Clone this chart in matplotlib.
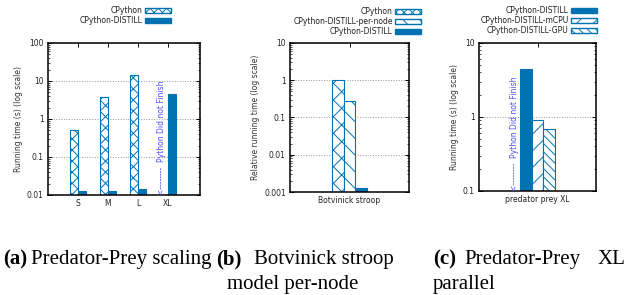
import numpy as np
import matplotlib
matplotlib.use('Agg')
import matplotlib.pyplot as plt
from matplotlib.patches import Patch

# donnees
tailles = ['S', 'M', 'L', 'XL']
cpython_a = [0.5, 3.9, 14.0, np.nan]
distill_a = [0.013, 0.013, 0.014, 4.6]

stroop_labels = ['Botvinick stroop']
stroop_cpython = [1.0]
stroop_pernode = [0.28]
stroop_distill = [0.0013]

pp_labels = ['predator prey XL']
pp_distill = [4.4]
pp_mcpu = [0.9]
pp_gpu = [0.68]

BLEU = '#0072b2'
TXT = '#4d4dff'
FS = 5.5

W, H = 626, 295
plt.rcParams['hatch.linewidth'] = 0.7
plt.rcParams['font.family'] = 'DejaVu Sans'
fig = plt.figure(figsize=(W / 100, H / 100), dpi=100)


def boite(x0, x1, y0, y1):
    # conversion pixels -> fraction de figure
    return [x0 / W, (H - y1) / H, (x1 - x0) / W, (y1 - y0) / H]


def style_axe(ax, ylim, ylabel):
    ax.set_yscale('log')
    ax.set_ylim(*ylim)
    ax.set_ylabel(ylabel, fontsize=FS, color='#333333', labelpad=3)
    ax.tick_params(which='both', direction='in', top=True, right=True,
                   labelsize=FS, colors='black', labelcolor='#222222', pad=3)
    ax.tick_params(which='major', length=3, width=0.7)
    ax.tick_params(which='minor', length=1.5, width=0.5)
    ax.yaxis.grid(True, which='major', linestyle=':', color='#999999', lw=0.7)
    ax.set_axisbelow(True)
    for s in ax.spines.values():
        s.set_linewidth(1.1)
    ax.yaxis.set_major_formatter(matplotlib.ticker.FuncFormatter(lambda v, p: '%g' % v))


def legende(handles, right, top):
    fig.legend(handles=handles, loc='upper right',
               bbox_to_anchor=(right / W, 1 - top / H), frameon=False,
               markerfirst=False, fontsize=FS, handlelength=3.4,
               handleheight=0.7, handletextpad=0.3, labelspacing=0.15,
               borderpad=0, borderaxespad=0, labelcolor='#222222')


# (a) Predator-Prey scaling
ax1 = fig.add_axes(boite(48, 200, 43, 195))
x = np.arange(len(tailles))
l = 0.28
ax1.bar(x - 0.14, cpython_a, l, color='white', edgecolor=BLEU, hatch='xxx', lw=0.8)
ax1.bar(x + 0.14, distill_a, l, color=BLEU, edgecolor=BLEU, lw=0.8)
ax1.set_xlim(-1.0, 4.07)
ax1.set_xticks(x)
ax1.set_xticklabels(tailles)
style_axe(ax1, (0.01, 100), 'Running time (s) (log scale)')
ax1.text(3 - 0.2, 0.0102, '<--------  Python Did not Finish', rotation=90,
         ha='center', va='bottom', color=TXT, fontsize=FS)
legende([Patch(facecolor='white', edgecolor=BLEU, hatch='xxxx', label='CPython'),
         Patch(facecolor=BLEU, edgecolor=BLEU, label='CPython-DISTILL')], 171, 6)

# (b) Botvinick stroop per-node
ax2 = fig.add_axes(boite(290, 409, 43, 192))
xb = np.arange(len(stroop_labels))
l = 0.2
ax2.bar(xb - 0.2, stroop_cpython, l, color='white', edgecolor=BLEU, hatch='xx', lw=0.8)
ax2.bar(xb, stroop_pernode, l, color='white', edgecolor=BLEU, hatch='\\\\', lw=0.8)
ax2.bar(xb + 0.2, stroop_distill, l, color=BLEU, edgecolor=BLEU, lw=0.8)
ax2.set_xlim(-1, 1)
ax2.set_xticks(xb)
ax2.set_xticklabels(stroop_labels)
style_axe(ax2, (0.001, 10), 'Relative running time (log scale)')
legende([Patch(facecolor='white', edgecolor=BLEU, hatch='xxxx', label='CPython'),
         Patch(facecolor='white', edgecolor=BLEU, hatch='\\\\', label='CPython-DISTILL-per-node'),
         Patch(facecolor=BLEU, edgecolor=BLEU, label='CPython-DISTILL')], 421, 7)

# (c) Predator-Prey XL parallel
ax3 = fig.add_axes(boite(479, 596, 43, 191))
xc = np.arange(len(pp_labels))
ax3.bar(xc - 0.2, pp_distill, l, color=BLEU, edgecolor=BLEU, lw=0.8)
ax3.bar(xc, pp_mcpu, l, color='white', edgecolor=BLEU, hatch='//', lw=0.8)
ax3.bar(xc + 0.2, pp_gpu, l, color='white', edgecolor=BLEU, hatch='\\\\\\\\', lw=0.8)
ax3.set_xlim(-1, 1)
ax3.set_xticks(xc)
ax3.set_xticklabels(pp_labels)
style_axe(ax3, (0.1, 10), 'Running time (s) (log scale)')
ax3.text(-0.39, 0.101, '<--------  Python Did not Finish', rotation=90,
         ha='center', va='bottom', color=TXT, fontsize=FS)
legende([Patch(facecolor=BLEU, edgecolor=BLEU, label='CPython-DISTILL'),
         Patch(facecolor='white', edgecolor=BLEU, hatch='//', label='CPython-DISTILL-mCPU'),
         Patch(facecolor='white', edgecolor=BLEU, hatch='\\\\\\\\', label='CPython-DISTILL-GPU')], 597, 6)

# legendes sous les graphes
serif = ['Liberation Serif', 'DejaVu Serif']
CF = 15
def legende_texte(x, y, s, gras=False):
    fig.text(x / W, 1 - y / H, s, fontsize=CF, family=serif,
             fontweight='bold' if gras else 'normal', ha='left', va='baseline')

legende_texte(3, 264, '(a)', True)
legende_texte(31, 264, 'Predator-Prey scaling')
legende_texte(216, 264, '(b)', True)
legende_texte(254, 264, 'Botvinick stroop')
legende_texte(227, 289, 'model per-node')
legende_texte(433, 264, '(c)', True)
legende_texte(464, 264, 'Predator-Prey')
legende_texte(598, 264, 'XL')
legende_texte(433, 289, 'parallel')

fig.savefig('out.png', dpi=100)
